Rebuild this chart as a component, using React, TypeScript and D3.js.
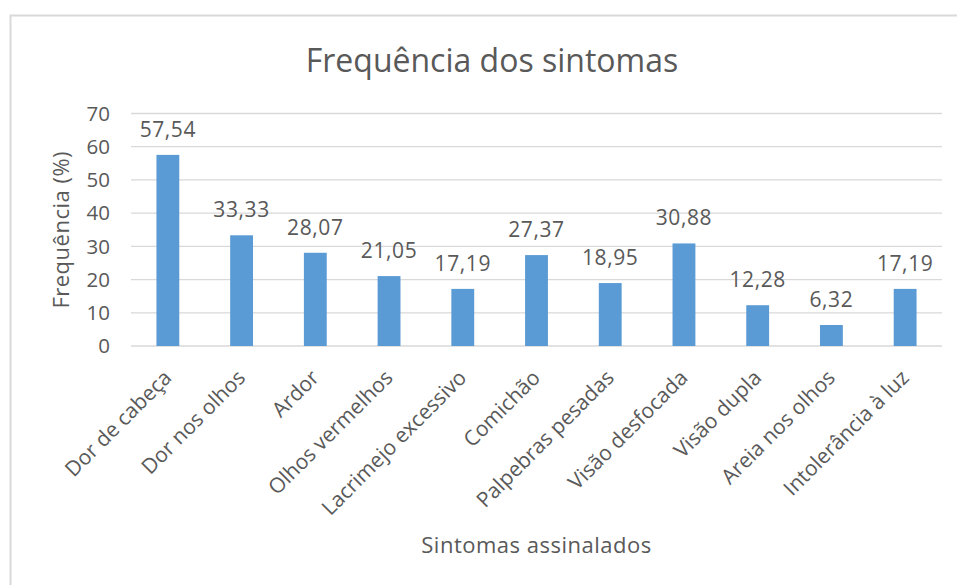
import React from "react";
import * as d3 from "d3";

const categories = [
  "Dor de cabeça",
  "Dor nos olhos",
  "Ardor",
  "Olhos vermelhos",
  "Lacrimejo excessivo",
  "Comichão",
  "Palpebras pesadas",
  "Visão desfocada",
  "Visão dupla",
  "Areia nos olhos",
  "Intolerância à luz",
];
const values = [57.54, 33.33, 28.07, 21.05, 17.19, 27.37, 18.95, 30.88, 12.28, 6.32, 17.19];
const yTicks = [0, 10, 20, 30, 40, 50, 60, 70];
const title = "Frequência dos sintomas";
const yTitle = "Frequência (%)";
const xTitle = "Sintomas assinalados";

const W = 957;
const H = 585;
const FONT = "'Open Sans', 'Noto Sans', sans-serif";
const TXT = "#595959";

export default function App() {
  const x = d3.scaleBand<string>().domain(categories).range([131, 942]).paddingInner(0.69).paddingOuter(0.345);
  const y = d3.scaleLinear().domain([0, 70]).range([346, 113.5]);
  const fmt = (v: number) => v.toFixed(2).replace(".", ",");
  return (
    <svg width={W} height={H} style={{ position: "absolute", left: 0, top: 0, fontFamily: FONT }}>
      <rect x={0} y={0} width={W} height={H} fill="#fff" />
      <path d={`M10.5,${H} V15.5 H${W}`} fill="none" stroke="#d9d9d9" strokeWidth={2} />
      <text x={492} y={72} textAnchor="middle" fontSize={32} fill={TXT}>{title}</text>
      {yTicks.map((t) => (
        <g key={t}>
          <line x1={131} x2={942} y1={y(t)} y2={y(t)} stroke="#d9d9d9" strokeWidth={t === 0 ? 1.5 : 1.3} />
          <text x={110} y={y(t)} dy="0.35em" textAnchor="end" fontSize={20.5} fill={TXT}>{t}</text>
        </g>
      ))}
      {categories.map((c, i) => (
        <g key={c}>
          <rect x={x(c)} y={y(values[i])} width={x.bandwidth()} height={y(0) - y(values[i])} fill="#5b9bd5" />
          <text x={x(c)! + x.bandwidth() / 2} y={y(values[i]) - 18} textAnchor="middle" fontSize={21} letterSpacing={0.6} fill={TXT}>{fmt(values[i])}</text>
          <text transform={`translate(${x(c)! + x.bandwidth() / 2 + 5},${y(0) + 33}) rotate(-45)`} textAnchor="end" fontSize={21} fill={TXT}>{c}</text>
        </g>
      ))}
      <text transform={`translate(69,${(y(0) + y(70)) / 2}) rotate(-90)`} textAnchor="middle" fontSize={22} letterSpacing={0.5} fill={TXT}>{yTitle}</text>
      <text x={(131 + 942) / 2} y={553} textAnchor="middle" fontSize={22} letterSpacing={0.5} fill={TXT}>{xTitle}</text>
    </svg>
  );
}
